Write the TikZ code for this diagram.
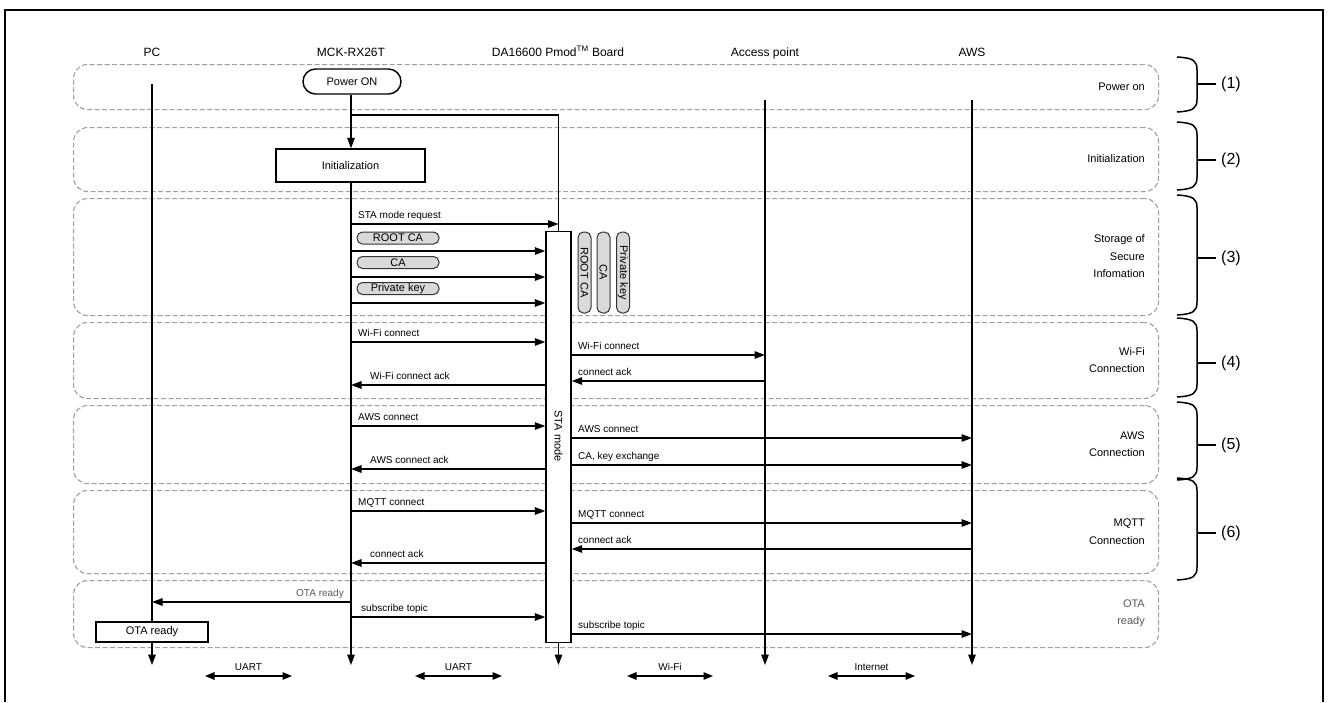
\documentclass[tikz,border=0pt]{standalone}
\usepackage{fontspec}
\setmainfont{Liberation Sans}
\usetikzlibrary{arrows.meta,shapes.misc}
\tikzset{
  band/.style={draw=gray!75, dash pattern=on 5pt off 2.5pt, line width=1.1pt, rounded corners=14pt, anchor=north west, inner sep=0pt},
  blbl/.style={anchor=east, align=right, inner sep=0pt, font=\fontsize{11}{17.5}\selectfont},
  hdr/.style={anchor=base, inner sep=0pt, font=\fontsize{12}{14}\selectfont},
  lbl/.style={anchor=base west, inner sep=0pt, font=\fontsize{10}{12}\selectfont},
  life/.style={line width=1.4pt},
  arr/.style={line width=1.4pt, -{Triangle[length=10.5pt,width=7.5pt]}},
  dbl/.style={line width=1.4pt, {Triangle[length=9.5pt,width=7.5pt]}-{Triangle[length=9.5pt,width=7.5pt]}},
  boxn/.style={draw, line width=1.4pt, fill=white, inner sep=0pt, font=\fontsize{11}{13}\selectfont},
  pill/.style={draw=black!80, line width=1pt, fill=gray!30, rounded corners=5.5pt, inner sep=0pt, font=\fontsize{11}{13}\selectfont},
  brc/.style={line width=1.5pt},
  num/.style={anchor=west, inner sep=0pt, font=\fontsize{16}{18}\selectfont},
}
\begin{document}
\begin{tikzpicture}[x=1pt,y=-1pt]
\useasboundingbox (0,0) rectangle (1330,702);
% frame
\draw[line width=1.5pt] (5,702) -- (5,10) -- (1323,10) -- (1323,702);

% headers
\node[hdr] (hPC) at (152,56) {PC};
\node[hdr] (hMCK) at (351,56) {MCK-RX26T};
\node[hdr] (hDA) at (558,56) {DA16600 Pmod\textsuperscript{\fontsize{8}{8}\selectfont TM} Board};
\node[hdr] (hAP) at (765,56) {Access point};
\node[hdr] (hAWS) at (972,56) {AWS};

% bands
\node[band, minimum width=1085pt, minimum height=45pt] (b1) at (73,64) {};
\node[band, minimum width=1085pt, minimum height=64pt] (b2) at (73,127) {};
\node[band, minimum width=1085pt, minimum height=117pt] (b3) at (73,198) {};
\node[band, minimum width=1085pt, minimum height=76pt] (b4) at (73,322) {};
\node[band, minimum width=1085pt, minimum height=78pt] (b5) at (73,405) {};
\node[band, minimum width=1085pt, minimum height=83pt] (b6) at (73,490) {};
\node[band, minimum width=1085pt, minimum height=67pt] (b7) at (73,580) {};

\node[blbl] (t1) at (1145,86.5) {Power on};
\node[blbl] (t2) at (1145,159) {Initialization};
\node[blbl] (t3) at (1145,256.5) {Storage of\\Secure\\Infomation};
\node[blbl] (t4) at (1145,360) {Wi-Fi\\Connection};
\node[blbl] (t5) at (1145,444) {AWS\\Connection};
\node[blbl] (t6) at (1145,531.5) {MQTT\\Connection};
\node[blbl, text=black!65] (t7) at (1145,613.5) {OTA\\ready};

% braces
\foreach \ya/\yb/\yc/\n in {57/112/84/1, 122/190/160/2, 195/315/258/3, 318/397/363/4, 402/480/445/5, 478/580/533/6}{
  \draw[brc] (1177,\ya) .. controls (1194,\ya+1) and (1197,\ya+4) .. (1197,\ya+13)
     -- (1197,\yb-13) .. controls (1197,\yb-4) and (1194,\yb-1) .. (1177,\yb);
  \draw[brc] (1197,\yc) -- (1216,\yc);
  \node[num] (n\n) at (1221,\yc) {(\n)};
}

% coordinates
\coordinate (pcTop) at (152,84);
\coordinate (apTop) at (765,100);
\coordinate (awsTop) at (972,100);
\coordinate (pcEnd) at (152,665);
\coordinate (mckEnd) at (351,665);
\coordinate (daEnd) at (558.5,665);
\coordinate (apEnd) at (765,665);
\coordinate (awsEnd) at (972,665);
\coordinate (split) at (351,115);
\coordinate (daTurn) at (558.5,115);

% lifelines
\draw[arr] (pcTop) -- (pcEnd);
\draw[arr] (apTop) -- (apEnd);
\draw[arr] (awsTop) -- (awsEnd);

% boxes
\node[boxn, rounded corners=12.5pt, minimum width=98pt, minimum height=25pt] (pon) at (352,81.5) {Power ON};
\node[boxn, minimum width=149pt, minimum height=33pt] (init) at (350.5,165.5) {Initialization};
\node[boxn, minimum width=25pt, minimum height=411pt, anchor=north] (sta) at (558.5,231) {};
\node[inner sep=0pt, rotate=-90, font=\fontsize{11}{13}\selectfont] (statxt) at (558.5,436) {STA mode};
\node[boxn, minimum width=112pt, minimum height=20pt] (ota) at (152,632) {OTA ready};

\draw[arr] (pon.south -| split) -- (init.north -| split);
\draw[arr] (init.south -| split) -- (mckEnd);
\draw[life] (split) -- (daTurn) -- (sta.north);
\draw[arr] (sta.south) -- (daEnd);

% storage
\draw[arr] (split |- 0,224) -- (daTurn |- 0,224);
\node[lbl] (m1) at (358,218.5) {STA mode request};
\node[pill, minimum width=82pt, minimum height=12pt] (p1) at (398,238) {ROOT CA};
\draw[arr] (split |- 0,251) -- (sta.west |- 0,251);
\node[pill, minimum width=82pt, minimum height=12pt] (p2) at (398,262.5) {CA};
\draw[arr] (split |- 0,277) -- (sta.west |- 0,277);
\node[pill, minimum width=82pt, minimum height=12pt] (p3) at (398,288.5) {Private key};
\draw[arr] (split |- 0,303) -- (sta.west |- 0,303);
\node[pill, minimum width=81pt, minimum height=13pt, rotate=-90] (v1) at (584.5,272.5) {ROOT CA};
\node[pill, minimum width=81pt, minimum height=13pt, rotate=-90] (v2) at (603.5,272.5) {CA};
\node[pill, minimum width=81pt, minimum height=13pt, rotate=-90] (v3) at (623,272.5) {Private key};

% wifi
\draw[arr] (split |- 0,342) -- (sta.west |- 0,342);
\node[lbl] (m2) at (358,336.5) {Wi-Fi connect};
\draw[arr] (sta.east |- 0,355) -- (apTop |- 0,355);
\node[lbl] (m3) at (578,349.5) {Wi-Fi connect};
\draw[arr] (apTop |- 0,381) -- (sta.east |- 0,381);
\node[lbl] (m4) at (578,375.5) {connect ack};
\draw[arr] (sta.west |- 0,385) -- (split |- 0,385);
\node[lbl] (m5) at (370,379.5) {Wi-Fi connect ack};

% aws
\draw[arr] (split |- 0,426) -- (sta.west |- 0,426);
\node[lbl] (m6) at (358,420.5) {AWS connect};
\draw[arr] (sta.east |- 0,438) -- (awsTop |- 0,438);
\node[lbl] (m7) at (578,432.5) {AWS connect};
\draw[arr] (sta.east |- 0,465) -- (awsTop |- 0,465);
\node[lbl] (m8) at (578,459.5) {CA, key exchange};
\draw[arr] (sta.west |- 0,469) -- (split |- 0,469);
\node[lbl] (m9) at (370,463.5) {AWS connect ack};

% mqtt
\draw[arr] (split |- 0,511) -- (sta.west |- 0,511);
\node[lbl] (m10) at (358,505.5) {MQTT connect};
\draw[arr] (sta.east |- 0,523) -- (awsTop |- 0,523);
\node[lbl] (m11) at (578,517.5) {MQTT connect};
\draw[arr] (awsTop |- 0,549) -- (sta.east |- 0,549);
\node[lbl] (m12) at (578,543.5) {connect ack};
\draw[arr] (sta.west |- 0,563) -- (split |- 0,563);
\node[lbl] (m13) at (370,557.5) {connect ack};

% ota
\draw[arr] (split |- 0,602) -- (pcTop |- 0,602);
\node[lbl, anchor=base east, text=black!65] (m14) at (344,596.5) {OTA ready};
\draw[arr] (split |- 0,617) -- (sta.west |- 0,617);
\node[lbl] (m15) at (361,611.5) {subscribe topic};
\draw[arr] (sta.east |- 0,634) -- (awsTop |- 0,634);
\node[lbl] (m16) at (578,628.5) {subscribe topic};

% interfaces
\coordinate (u1a) at (205,676); \coordinate (u1b) at (292,676);
\coordinate (u2a) at (415,676); \coordinate (u2b) at (502,676);
\coordinate (u3a) at (627,676); \coordinate (u3b) at (713,676);
\coordinate (u4a) at (828,676); \coordinate (u4b) at (915,676);
\draw[dbl] (u1a) -- (u1b);
\draw[dbl] (u2a) -- (u2b);
\draw[dbl] (u3a) -- (u3b);
\draw[dbl] (u4a) -- (u4b);
\node[lbl, anchor=base] (i1) at (248.5,670) {UART};
\node[lbl, anchor=base] (i2) at (458.5,670) {UART};
\node[lbl, anchor=base] (i3) at (670,670) {Wi-Fi};
\node[lbl, anchor=base] (i4) at (871.5,670) {Internet};
\end{tikzpicture}
\end{document}
